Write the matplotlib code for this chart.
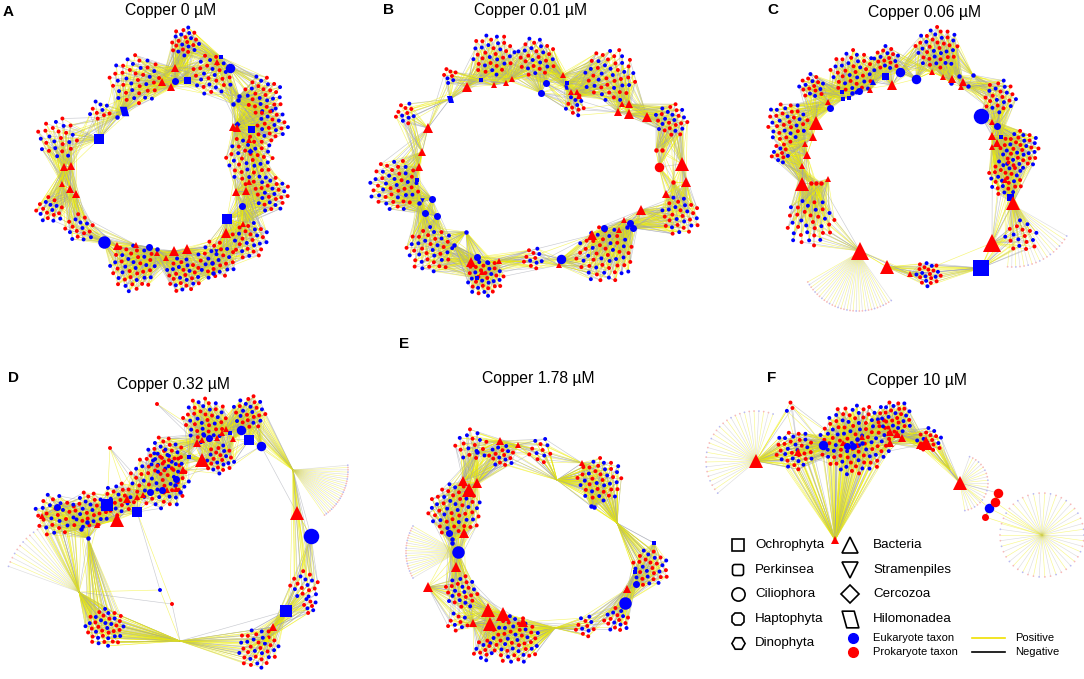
import numpy as np
import matplotlib.pyplot as plt
from matplotlib.collections import LineCollection
from matplotlib.path import Path
from matplotlib.patches import FancyBboxPatch

plt.rcParams['font.family'] = ['Liberation Sans', 'DejaVu Sans']

# node tables, in pixel coordinates of the 1084x679 figure
# hubs: (x, y, shape, taxon, degree class)   shape t=triangle c=circle s=square
#        h=hilomonadea d=diamond v=down triangle n=bare junction ; taxon r/b/y
# groups of small taxa: (x, y, count, spread)
# fans of faded taxa: (x, y, radius, angle from, angle to, count)

A_hubs = [
    (175, 68, 't', 'r', 2), (162, 82, 't', 'r', 2), (171, 87, 't', 'r', 2), (217, 62, 't', 'r', 1),
    (64, 167, 't', 'r', 2), (71, 166, 't', 'r', 2), (62, 184, 't', 'r', 1), (70, 189, 't', 'r', 2),
    (76, 194, 't', 'r', 2), (117, 246, 't', 'r', 2), (136, 245, 't', 'r', 1), (157, 253, 't', 'r', 1),
    (166, 258, 't', 'r', 1), (174, 251, 't', 'r', 3), (187, 249, 't', 'r', 3), (226, 233, 't', 'r', 3),
    (236, 192, 't', 'r', 2), (246, 191, 't', 'r', 2), (249, 182, 't', 'r', 1), (233, 127, 't', 'r', 2),
    (237, 128, 't', 'r', 2), (249, 140, 't', 'r', 1), (243, 224, 't', 'r', 1),
    (230, 68, 'c', 'b', 3), (175, 81, 'c', 'b', 2), (104, 242, 'c', 'b', 4), (149, 247, 'c', 'b', 2),
    (157, 249, 'c', 'b', 1), (242, 206, 'c', 'b', 2), (212, 263, 'c', 'b', 1), (213, 273, 'c', 'b', 1),
    (238, 100, 'c', 'b', 1), (233, 104, 'c', 'b', 1), (117, 117, 'c', 'b', 1), (239, 96, 'c', 'b', 1),
    (99, 139, 's', 'b', 3), (187, 80, 's', 'b', 2), (221, 57, 's', 'b', 1), (251, 129, 's', 'b', 2),
    (227, 219, 's', 'b', 3), (124, 111, 'h', 'b', 3), (250, 151, 'd', 'b', 1), (237, 124, 'd', 'b', 1),
    (216, 251, 'v', 'b', 1),
]
A_groups = [
    (185, 42, 24, 15), (135, 80, 40, 26), (212, 75, 30, 21), (263, 95, 30, 20), (272, 125, 24, 17),
    (250, 160, 42, 25), (272, 194, 28, 18), (250, 240, 28, 19), (133, 268, 42, 24), (183, 275, 30, 18),
    (216, 260, 30, 20), (58, 138, 26, 21), (50, 210, 18, 14), (80, 228, 18, 15), (100, 110, 10, 11),
]
A_fans = []
A_spokes = []

B_hubs = [
    (467, 87, 't', 'r', 3), (494, 85, 't', 'r', 1), (506, 83, 't', 'r', 1), (512, 79, 't', 'r', 1),
    (563, 75, 't', 'r', 1), (571, 92, 't', 'r', 1), (577, 92, 't', 'r', 1), (579, 96, 't', 'r', 1),
    (618, 112, 't', 'r', 2), (629, 104, 't', 'r', 2), (629, 114, 't', 'r', 3), (647, 117, 't', 'r', 3),
    (622, 104, 't', 'r', 1), (428, 128, 't', 'r', 3), (422, 152, 't', 'r', 2), (419, 167, 't', 'r', 2),
    (682, 164, 't', 'r', 4), (686, 182, 't', 'r', 3), (666, 194, 't', 'r', 2), (641, 210, 't', 'r', 3),
    (624, 220, 't', 'r', 1), (619, 230, 't', 'r', 1), (592, 235, 't', 'r', 3), (471, 262, 't', 'r', 3),
    (499, 261, 't', 'r', 1), (559, 265, 't', 'r', 1), (482, 272, 't', 'r', 1),
    (656, 150, 'c', 'r', 1), (662, 150, 'c', 'r', 1), (659, 167, 'c', 'r', 3), (673, 182, 'c', 'r', 1),
    (546, 83, 'c', 'b', 2), (541, 93, 'c', 'b', 2), (432, 199, 'c', 'b', 2), (425, 213, 'c', 'b', 2),
    (437, 216, 'c', 'b', 2), (419, 203, 'c', 'b', 1), (477, 257, 'c', 'b', 2), (487, 262, 'c', 'b', 1),
    (561, 259, 'c', 'b', 3), (604, 228, 'c', 'b', 2), (630, 223, 'c', 'b', 2), (633, 228, 'c', 'b', 2),
    (627, 227, 'c', 'b', 1), (454, 245, 'c', 'b', 1), (466, 232, 'c', 'b', 1),
    (481, 80, 's', 'b', 1), (417, 180, 's', 'b', 1), (567, 83, 's', 'b', 1), (477, 278, 's', 'b', 1),
    (450, 99, 'h', 'b', 2), (566, 87, 'h', 'b', 1), (422, 200, 'v', 'b', 1),
]
B_groups = [
    (493, 54, 36, 22), (536, 57, 30, 20), (610, 75, 46, 27), (450, 76, 8, 8), (394, 185, 46, 26),
    (405, 113, 12, 11), (430, 250, 40, 24), (485, 278, 36, 19), (605, 255, 52, 29), (680, 216, 30, 20),
    (672, 120, 26, 17), (533, 258, 12, 11), (575, 105, 12, 11),
]
B_fans = []
B_spokes = []

C_hubs = [
    (816, 123, 't', 'r', 4), (813, 137, 't', 'r', 2), (805, 144, 't', 'r', 1), (807, 155, 't', 'r', 2),
    (802, 166, 't', 'r', 1), (802, 184, 't', 'r', 4), (828, 102, 't', 'r', 1), (870, 90, 't', 'r', 1),
    (892, 85, 't', 'r', 3), (932, 72, 't', 'r', 1), (943, 77, 't', 'r', 1), (952, 79, 't', 'r', 2),
    (963, 82, 't', 'r', 2), (961, 87, 't', 'r', 1), (992, 122, 't', 'r', 1), (992, 136, 't', 'r', 2),
    (997, 143, 't', 'r', 2), (992, 147, 't', 'r', 1), (1005, 180, 't', 'r', 1), (1013, 203, 't', 'r', 4),
    (992, 243, 't', 'r', 5), (860, 251, 't', 'r', 5), (887, 267, 't', 'r', 4), (828, 179, 't', 'r', 1),
    (910, 274, 't', 'r', 1),
    (811, 183, 'c', 'r', 1), (816, 183, 'c', 'r', 1), (821, 183, 'c', 'r', 1),
    (900, 72, 'c', 'b', 3), (916, 79, 'c', 'b', 3), (981, 116, 'c', 'b', 5), (997, 126, 'c', 'b', 2),
    (859, 91, 'c', 'b', 2), (852, 93, 'c', 'b', 1), (830, 108, 'c', 'b', 2), (968, 86, 'c', 'b', 1),
    (959, 76, 'c', 'b', 1), (951, 83, 'c', 'b', 1), (973, 75, 'c', 'b', 1),
    (885, 76, 's', 'b', 2), (842, 92, 's', 'b', 1), (843, 99, 's', 'b', 1), (849, 98, 's', 'b', 1),
    (1001, 137, 's', 'b', 1), (1010, 197, 's', 'b', 2), (981, 268, 's', 'b', 5), (873, 82, 't', 'b', 1),
]
C_groups = [
    (853, 72, 40, 23), (937, 48, 40, 22), (887, 58, 18, 13), (787, 122, 36, 21), (812, 86, 18, 13),
    (780, 153, 12, 10), (1020, 150, 40, 20), (1005, 178, 30, 18), (1000, 97, 24, 17), (1022, 236, 18, 17),
    (810, 222, 36, 25), (928, 274, 22, 13),
]
C_fans = [(858, 253, 58, 55, 150, 32), (1013, 205, 62, 30, 95, 18)]
C_spokes = []

D_hubs = [
    (107, 505, 's', 'b', 4), (137, 512, 's', 'b', 3), (189, 457, 's', 'b', 1), (249, 440, 's', 'b', 3),
    (230, 433, 's', 'b', 1), (286, 611, 's', 'b', 4),
    (57, 507, 'c', 'b', 2), (241, 430, 'c', 'b', 3), (261, 446, 'c', 'b', 3), (209, 438, 'c', 'b', 2),
    (203, 434, 'c', 'b', 1), (150, 492, 'c', 'b', 2), (162, 490, 'c', 'b', 2), (176, 479, 'c', 'b', 2),
    (175, 485, 'c', 'b', 1), (180, 492, 'c', 'b', 1), (311, 536, 'c', 'b', 5), (81, 529, 'c', 'b', 1),
    (88, 538, 'c', 'b', 1), (87, 522, 'c', 'b', 1),
    (202, 460, 't', 'r', 4), (117, 520, 't', 'r', 4), (127, 499, 't', 'r', 2), (137, 497, 't', 'r', 1),
    (143, 495, 't', 'r', 1), (167, 490, 't', 'r', 1), (183, 470, 't', 'r', 2), (176, 489, 't', 'r', 1),
    (197, 443, 't', 'r', 2), (202, 440, 't', 'r', 1), (217, 438, 't', 'r', 1), (222, 433, 't', 'r', 1),
    (226, 429, 't', 'r', 1), (233, 439, 't', 'r', 1), (297, 513, 't', 'r', 4), (273, 627, 't', 'r', 2),
    (42, 516, 't', 'r', 1), (97, 525, 't', 'r', 1), (267, 639, 't', 'y', 1),
    (79, 592, 'n', 'r', 0), (180, 641, 'n', 'r', 0), (293, 470, 'n', 'r', 0),
]
D_groups = [
    (55, 515, 30, 22), (90, 510, 30, 19), (160, 480, 60, 30), (165, 455, 30, 19), (205, 420, 42, 23),
    (250, 412, 26, 17), (220, 460, 24, 15), (118, 500, 24, 17), (305, 585, 18, 15), (105, 628, 40, 20),
    (258, 648, 36, 21), (310, 606, 8, 8), (157, 404, 1, 0), (110, 448, 1, 0), (160, 590, 1, 0),
    (172, 604, 1, 0),
]
D_fans = [(293, 470, 55, -5, 55, 26), (79, 592, 75, 200, 240, 12)]
D_spokes = [(40, 9), (40, 10), (39, 0), (39, 9), (41, 8), (41, 5)]

E_hubs = [
    (500, 441, 't', 'r', 2), (518, 445, 't', 'r', 1), (463, 481, 't', 'r', 3), (477, 483, 't', 'r', 3),
    (469, 490, 't', 'r', 4), (464, 533, 't', 'r', 3), (456, 567, 't', 'r', 3), (428, 587, 't', 'r', 3),
    (488, 610, 't', 'r', 4), (503, 614, 't', 'r', 4), (490, 624, 't', 'r', 4), (473, 623, 't', 'r', 2),
    (523, 622, 't', 'r', 3), (582, 463, 't', 'r', 1), (627, 589, 't', 'r', 2),
    (458, 552, 'c', 'b', 4), (449, 533, 'c', 'b', 2), (452, 539, 'c', 'b', 1), (452, 543, 'c', 'b', 1),
    (477, 452, 'c', 'b', 1), (625, 603, 'c', 'b', 4), (636, 584, 'c', 'b', 2), (591, 506, 'c', 'b', 1),
    (594, 507, 'c', 'b', 1), (654, 543, 's', 'b', 1), (635, 572, 's', 'b', 1),
    (557, 480, 'n', 'r', 0), (617, 523, 'n', 'r', 0), (555, 628, 'n', 'r', 0),
]
E_groups = [
    (472, 445, 18, 17), (502, 455, 18, 13), (540, 450, 12, 13), (455, 510, 52, 27), (462, 592, 26, 17),
    (458, 622, 10, 11), (515, 640, 52, 25), (483, 650, 12, 11), (600, 480, 40, 23), (650, 568, 30, 19),
    (617, 620, 18, 13), (585, 626, 12, 11),
]
E_fans = [(458, 552, 52, 150, 210, 22)]
E_spokes = [(26, 2), (26, 8), (28, 6), (28, 11), (27, 8), (27, 9)]

F_hubs = [
    (756, 461, 't', 'r', 4), (798, 452, 't', 'r', 2), (890, 432, 't', 'r', 2), (897, 434, 't', 'r', 2),
    (902, 438, 't', 'r', 2), (890, 443, 't', 'r', 2), (926, 443, 't', 'r', 4), (920, 445, 't', 'r', 2),
    (960, 483, 't', 'r', 4), (843, 443, 't', 'r', 1), (857, 445, 't', 'r', 1), (862, 437, 't', 'r', 1),
    (835, 540, 't', 'r', 2),
    (823, 445, 'c', 'b', 3), (847, 446, 'c', 'b', 2), (853, 446, 'c', 'b', 2), (857, 439, 'c', 'b', 1),
    (862, 443, 'c', 'b', 1), (989, 508, 'c', 'b', 3),
    (998, 493, 'c', 'r', 3), (995, 502, 'c', 'r', 3), (985, 517, 'c', 'r', 2),
    (950, 470, 'n', 'r', 0), (1042, 535, 'n', 'r', 0),
]
F_groups = [
    (855, 440, 100, 36), (795, 450, 34, 20), (895, 418, 34, 18), (930, 440, 18, 13), (790, 408, 3, 6),
]
F_fans = [(756, 461, 50, 140, 290, 28), (960, 483, 28, -70, 80, 22), (1042, 535, 42, 0, 360, 46)]
F_spokes = [(12, 0), (12, 1), (0, 1), (0, 4)]

titles = ['Copper 0 µM', 'Copper 0.01 µM', 'Copper 0.06 µM',
          'Copper 0.32 µM', 'Copper 1.78 µM', 'Copper 10 µM']
panel_letters = ['A', 'B', 'C', 'D', 'E', 'F']
title_xy = [(171, 11), (531, 10), (924, 13), (173, 385), (538, 379), (917, 380)]
letter_xy = [(3, 12), (383, 10), (767, 10), (8, 378), (399, 344), (767, 378)]

legend_left = ['Ochrophyta', 'Perkinsea', 'Ciliophora', 'Haptophyta', 'Dinophyta']
legend_right = ['Bacteria', 'Stramenpiles', 'Cercozoa', 'Hilomonadea']

RED, BLUE = '#ff0000', '#0000ff'
POS, NEG = '#eeee00', '#9da0aa'
HILO = Path([(-1, 1), (0.45, 1), (1, -1), (-0.45, -1), (-1, 1)],
            [Path.MOVETO, Path.LINETO, Path.LINETO, Path.LINETO, Path.CLOSEPOLY])
MARK = {'t': '^', 'c': 'o', 's': 's', 'h': HILO, 'd': 'D', 'v': 'v'}
PX = [0, 4.5, 7, 9.5, 12.5, 15.5]
TAXON = {'r': RED, 'b': BLUE, 'y': '#f0f000'}


def sunflower(groups):
    pts, gid = [], []
    for g, (gx, gy, n, r) in enumerate(groups):
        for i in range(n):
            rr = r * np.sqrt((i + 0.5) / n)
            th = i * 2.39996
            pts.append((gx + rr * np.cos(th), gy + rr * np.sin(th)))
            gid.append(g)
    return np.array(pts), np.array(gid)


def draw_panel(ax, hubs, groups, fans, spokes, reach=60):
    H = np.array([(h[0], h[1]) for h in hubs], float)
    P, gid = sunflower(groups)
    segs, cols = [], []

    # small taxa tie to the hubs close by
    for j, p in enumerate(P):
        d = np.hypot(*(H - p).T)
        order = np.argsort(d)
        pick = [k for k in order[:8] if d[k] < reach]
        if len(pick) < 3:
            pick = list(order[:3])
        for k in pick:
            segs.append([p, H[k]])
            cols.append(POS if (3 * j + k) % 7 < 4 else NEG)
    # hub to hub
    for i, h in enumerate(H):
        d = np.hypot(*(H - h).T)
        for k in np.argsort(d)[1:4]:
            segs.append([h, H[k]])
            cols.append(POS if (i + k) % 3 else NEG)
    for hk, g in spokes:
        for j in np.where(gid == g)[0]:
            segs.append([H[hk], P[j]])
            cols.append(POS if j % 3 else NEG)
    ax.add_collection(LineCollection(segs, colors=cols, linewidths=0.45, alpha=0.55, zorder=1))

    # faded fans
    fsegs, fcols, fx, fy, fc = [], [], [], [], []
    for cx, cy, r, a0, a1, n in fans:
        ang = np.radians(np.linspace(a0, a1, n, endpoint=(a1 - a0) < 360))
        for i, a in enumerate(ang):
            q = (cx + r * np.cos(a), cy + r * np.sin(a))
            fsegs.append([(cx, cy), q])
            fcols.append(POS if i % 2 else '#b5b5b5')
            fx.append(q[0]); fy.append(q[1])
            fc.append('#f7baba' if i % 3 else '#babaf2')
    if fsegs:
        ax.add_collection(LineCollection(fsegs, colors=fcols, linewidths=0.45, alpha=0.45, zorder=1))
        ax.scatter(fx, fy, s=1.6, c=fc, linewidths=0, zorder=2)

    colors = [RED if (5 * i) % 9 < 5 else BLUE for i in range(len(P))]
    ax.scatter(P[:, 0], P[:, 1], s=8, c=colors, linewidths=0, zorder=2)

    for x, y, shp, tax, deg in sorted(hubs, key=lambda h: h[4]):
        if shp == 'n':
            continue
        ax.plot(x, y, marker=MARK[shp], ms=PX[deg] * 0.72 * (1.15 if shp == 't' else 1),
                mfc=TAXON[tax], mec=TAXON[tax], mew=0, ls='none', zorder=3)


fig = plt.figure(figsize=(10.84, 6.79), dpi=100)
ax = fig.add_axes([0, 0, 1, 1])
ax.set_xlim(0, 1084)
ax.set_ylim(679, 0)
ax.axis('off')

panels = [
    (A_hubs, A_groups, A_fans, A_spokes), (B_hubs, B_groups, B_fans, B_spokes),
    (C_hubs, C_groups, C_fans, C_spokes), (D_hubs, D_groups, D_fans, D_spokes),
    (E_hubs, E_groups, E_fans, E_spokes), (F_hubs, F_groups, F_fans, F_spokes),
]
for (hubs, groups, fans, spokes), t, txy, l, lxy in zip(panels, titles, title_xy,
                                                        panel_letters, letter_xy):
    draw_panel(ax, hubs, groups, fans, spokes)
    ax.text(*txy, t, ha='center', va='center', fontsize=11.3)
    ax.text(*lxy, l, ha='left', va='center', fontsize=11, fontweight='bold')

# legend
rows_l = [545, 570, 594, 619, 643]
rows_r = [545, 570, 594, 619]
left_marks = ['s', None, 'o', '8', 'H']
for y, name, m in zip(rows_l, legend_left, left_marks):
    if m is None:
        ax.add_patch(FancyBboxPatch((732.5, y - 5.5), 11, 11, boxstyle='round,pad=0,rounding_size=2.5',
                                    fc='none', ec='black', lw=1.2))
    else:
        ax.plot(738, y, marker=m, ms=9.5 if m != 's' else 8.5, mfc='none', mec='black', mew=1.2)
    ax.text(755, y, name, ha='left', va='center', fontsize=9.6)
for y, name, m in zip(rows_r, legend_right, ['^', 'v', 'D', HILO]):
    ax.plot(850, y, marker=m, ms=9 if m == 'D' else 12, mfc='none', mec='black', mew=1.2)
    ax.text(873, y, name, ha='left', va='center', fontsize=9.6)

ax.plot(853, 638, 'o', ms=7, color=BLUE)
ax.plot(853, 652, 'o', ms=7, color=RED)
ax.text(873, 638, 'Eukaryote taxon', ha='left', va='center', fontsize=8)
ax.text(873, 652, 'Prokaryote taxon', ha='left', va='center', fontsize=8)
ax.plot([972, 1005], [638, 638], color='#f0e000', lw=1.2)
ax.plot([972, 1005], [652, 652], color='black', lw=1.2)
ax.text(1015, 638, 'Positive', ha='left', va='center', fontsize=8)
ax.text(1015, 652, 'Negative', ha='left', va='center', fontsize=8)

fig.savefig('out.png', dpi=100)
